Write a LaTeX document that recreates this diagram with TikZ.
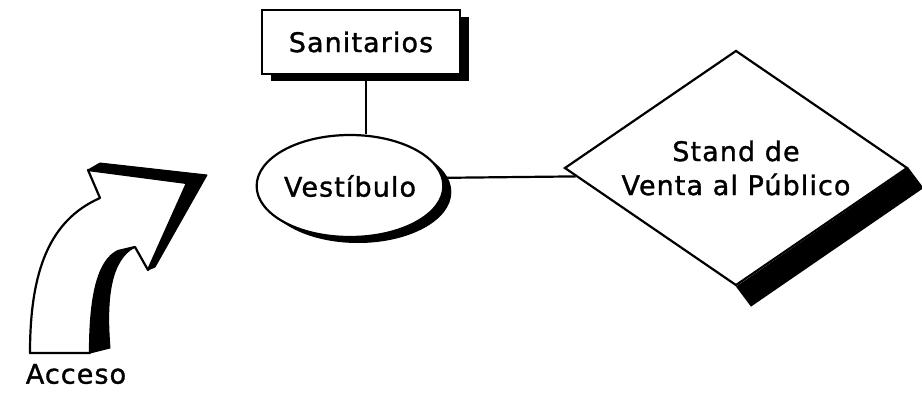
\documentclass[tikz,border=0pt]{standalone}
\usepackage{fontspec}
\setmainfont{DejaVu Sans}[LetterSpace=4, FakeBold=1.2]
\usetikzlibrary{shapes.geometric,shadows,calc}
\tikzset{
  outl/.style={line width=2.2pt, draw=black},
  boxshape/.style={outl, rectangle, fill=white, minimum width=198pt, minimum height=64pt, inner sep=0pt,
    drop shadow={shadow xshift=9pt, shadow yshift=-7pt, fill=black, opacity=1}},
  ellshape/.style={outl, ellipse, fill=white, minimum width=176pt, minimum height=102pt, inner sep=0pt,
    drop shadow={shadow xshift=8pt, shadow yshift=-6pt, fill=black, opacity=1}},
  diashape/.style={outl, diamond, fill=white, minimum width=343pt, minimum height=235pt, inner sep=0pt,
    shape aspect=1.46, align=center},
  lbl/.style={font=\fontsize{27}{34}\selectfont},
  conn/.style={line width=2.2pt},
  ext/.style={fill=black, draw=black, line width=1pt, line join=round},
}
\begin{document}
\begin{tikzpicture}[x=1pt,y=-1pt]
\useasboundingbox[fill=white] (0,0) rectangle (922,400);

% nodes
\node[boxshape, lbl] (san) at (361,42) {Sanitarios};
\node[ellshape, lbl] (ves) at (350,186) {Vestíbulo};
\node[diashape, lbl] (st) at (736,168) {Stand de\\Venta al Público};
\fill[black] (st.east) -- ++(15,20) -- ($(st.south)+(15,20)$) -- (st.south) -- cycle;

% connectors
\draw[conn] ([xshift=5pt]san.south) -- ([xshift=5pt]san.south |- ves.north);
\draw[conn] (ves.5) -- (st.183);

% extruded access arrow
\draw[ext] (88,170) -- (100,163) -- (207,175) -- (155,267) -- (148,270) -- (187,183) -- cycle;
\draw[ext] (135,247) -- (118,251) .. controls (100,260) and (90,290) .. (90,353)
   -- (110,348) .. controls (106,300) and (110,260) .. (135,247) -- cycle;
\draw[outl, fill=white, line join=round] (88,170) -- (187,183) -- (148,270) -- (135,247) -- (118,251)
   .. controls (100,260) and (90,290) .. (90,353) -- (30,353)
   .. controls (30,270) and (50,220) .. (100,198) -- cycle;
\node[lbl, inner sep=0pt] (acc) at (76,374) {Acceso};
\end{tikzpicture}
\end{document}
